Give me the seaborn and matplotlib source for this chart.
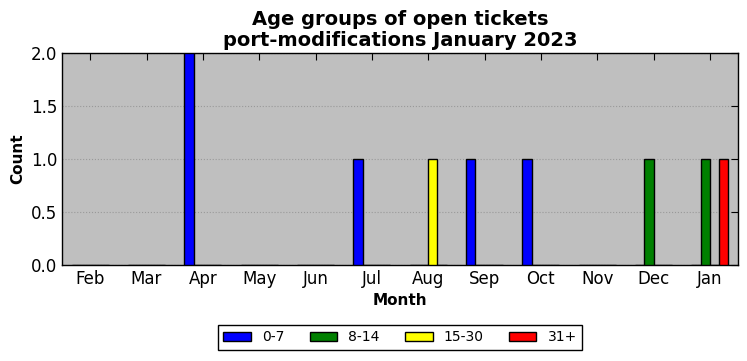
import pandas as pd
import seaborn as sns
import matplotlib.pyplot as plt

months = ['Feb', 'Mar', 'Apr', 'May', 'Jun', 'Jul', 'Aug', 'Sep', 'Oct', 'Nov', 'Dec', 'Jan']
age_groups = ['0-7', '8-14', '15-30', '31+']
counts_0_7 = [0, 0, 2, 0, 0, 1, 0, 1, 1, 0, 0, 0]
counts_8_14 = [0, 0, 0, 0, 0, 0, 0, 0, 0, 0, 1, 1]
counts_15_30 = [0, 0, 0, 0, 0, 0, 1, 0, 0, 0, 0, 0]
counts_31 = [0, 0, 0, 0, 0, 0, 0, 0, 0, 0, 0, 1]
colors = ['blue', 'green', 'yellow', 'red']

series = [counts_0_7, counts_8_14, counts_15_30, counts_31]
rows = []
for grp, vals in zip(age_groups, series):
    for mon, v in zip(months, vals):
        rows.append({'Month': mon, 'Count': v, 'Age': grp})
df = pd.DataFrame(rows)

sns.set_style('white')
plt.rcParams['font.family'] = ['DejaVu Sans']
plt.rcParams['text.color'] = 'black'
plt.rcParams['axes.labelcolor'] = 'black'
plt.rcParams['xtick.color'] = 'black'
plt.rcParams['ytick.color'] = 'black'

fig = plt.figure(figsize=(7.47, 3.61), dpi=100)
ax = fig.add_axes([0.083, 0.266, 0.905, 0.587])
ax.set_facecolor('#bfbfbf')

sns.barplot(data=df, x='Month', y='Count', hue='Age', order=months, hue_order=age_groups,
            palette=colors, saturation=1, edgecolor='black', linewidth=1, width=0.66,
            ax=ax, zorder=3)

ax.set_xlim(-0.5, 11.5)
ax.set_ylim(0, 2.0)
ax.set_yticks([0.0, 0.5, 1.0, 1.5, 2.0])
ax.set_yticklabels(['0.0', '0.5', '1.0', '1.5', '2.0'])
ax.yaxis.grid(True, linestyle=':', color='#999999', linewidth=0.8, zorder=0)
ax.set_axisbelow(True)
ax.tick_params(direction='in', top=True, right=True, length=5, labelsize=12, color='black')
for s in ax.spines.values():
    s.set_color('black')
    s.set_linewidth(1)

ax.set_xlabel('Month', fontsize=11, fontweight='bold')
ax.set_ylabel('Count', fontsize=11, fontweight='bold')
ax.set_title('Age groups of open tickets\nport-modifications January 2023',
             fontsize=14, fontweight='bold', linespacing=1.15, pad=5)

ax.legend(loc='upper center', bbox_to_anchor=(0.5, -0.25), ncol=4, fontsize=10,
          frameon=True, fancybox=False, edgecolor='black', framealpha=1,
          handlelength=2.0, handleheight=0.7, columnspacing=1.8, borderpad=0.4)

fig.savefig('out.png', dpi=100)
